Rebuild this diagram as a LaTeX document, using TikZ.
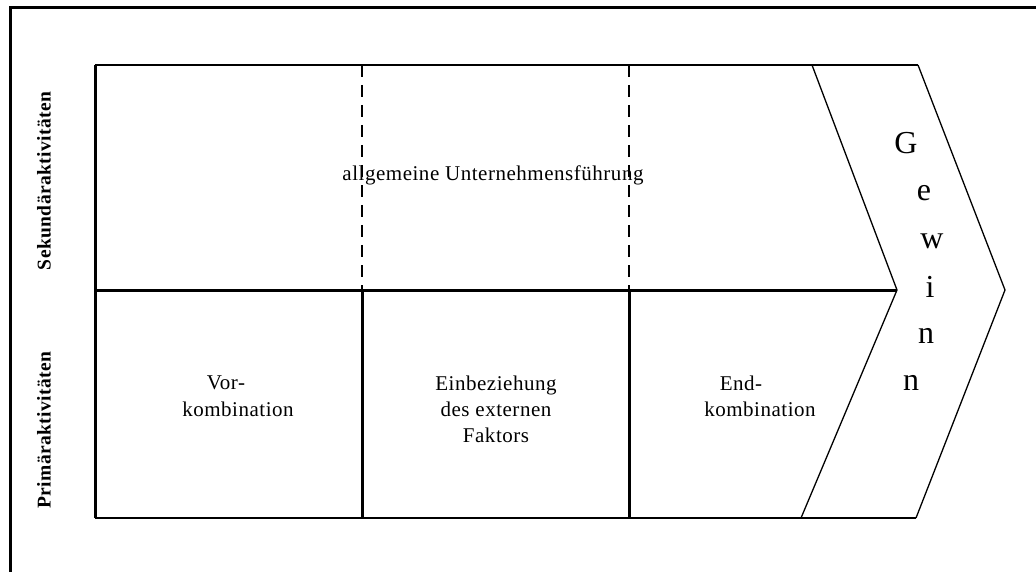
\documentclass[tikz,border=0pt]{standalone}
\usepackage{fontspec}
\setmainfont{Liberation Serif}
\begin{document}
\begin{tikzpicture}[x=1pt,y=-1pt,
  heavy/.style={line width=3pt},
  light/.style={line width=1.8pt},
  chevline/.style={line width=1.3pt, line join=miter},
  dashsep/.style={line width=1.5pt, dash pattern=on 12pt off 8pt},
  txt/.style={inner sep=0pt, font=\fontsize{21}{26}\selectfont\addfontfeature{LetterSpace=2.5}},
  side/.style={inner sep=0pt, rotate=90, font=\bfseries\fontsize{19.5}{20}\selectfont\addfontfeature{LetterSpace=2}},
  big/.style={inner sep=0pt, font=\fontsize{32}{34}\selectfont}]
\useasboundingbox (0,0) rectangle (1036,572);

% outer frame (open to the right and bottom)
\draw[heavy] (10,575) -- (10,8) -- (1040,8);

% corner points of the value chain
\coordinate (tl) at (95,65);
\coordinate (bl) at (95,518);
\coordinate (ml) at (95,290);
\coordinate (it) at (812,65);
\coordinate (tip) at (897,290);
\coordinate (ib) at (801,518);
\coordinate (ot) at (918,65);
\coordinate (otip) at (1005,290);
\coordinate (ob) at (916,518);
\coordinate (a1) at (362,65);
\coordinate (a2) at (362,290);
\coordinate (a3) at (362,518);
\coordinate (b1) at (629,65);
\coordinate (b2) at (629,290);
\coordinate (b3) at (629,518);

% outline
\draw[light] (tl) -- (ot);
\draw[light] (bl) -- (ob);
\draw[heavy] (tl) -- (bl);
\draw[heavy] (ml) -- (tip);
\draw[heavy] (a2) -- (a3);
\draw[heavy] (b2) -- (b3);
\draw[dashsep] (a1) -- (a2);
\draw[dashsep] (b1) -- (b2);
\draw[chevline] (it) -- (tip) -- (ib);
\draw[chevline] (ot) -- (otip) -- (ob);

% side labels
\node[side] (sek) at (44,181) {Sekundäraktivitäten};
\node[side] (pri) at (44,430) {Primäraktivitäten};

% activity texts
\node[txt] (ugf) at (493,175) {allgemeine Unternehmensführung};
\node[txt] (vor1) at (226,383) {Vor-};
\node[txt] (vor2) at (238,409) {kombination};
\node[txt, align=center] (ein) at (496,409) {Einbeziehung\\des externen\\Faktors};
\node[txt] (end1) at (741,383) {End-};
\node[txt] (end2) at (760,409) {kombination};

% profit margin lettering
\node[big] (g1) at (906,143) {G};
\node[big] (g2) at (924,193) {e};
\node[big] (g3) at (932,241) {w};
\node[big] (g4) at (930,287) {i};
\node[big] (g5) at (926,336) {n};
\node[big] (g6) at (911,383) {n};
\end{tikzpicture}
\end{document}
